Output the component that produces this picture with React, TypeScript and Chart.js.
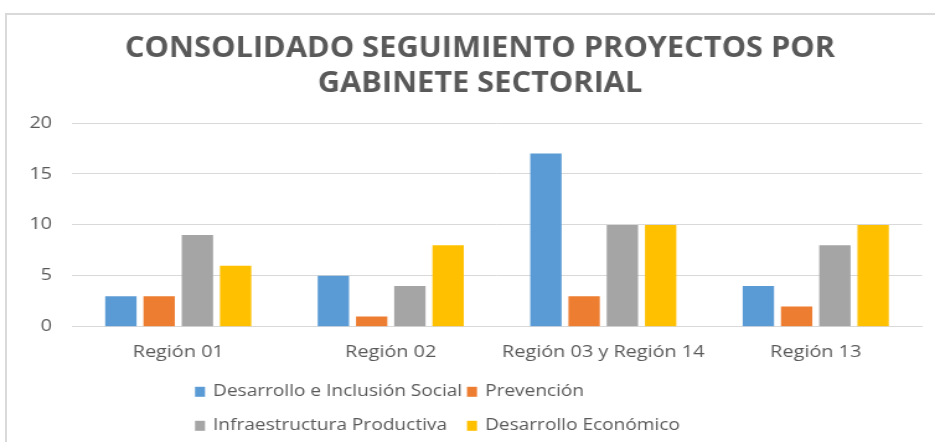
import React, { useEffect, useRef } from "react";
import { Chart, registerables } from "chart.js";

Chart.register(...registerables);

const categories = ["Región 01", "Región 02", "Región 03 y Región 14", "Región 13"];
const seriesNames = [
  "Desarrollo e Inclusión Social",
  "Prevención",
  "Infraestructura Productiva",
  "Desarrollo Económico",
];
const desarrolloInclusion = [3, 5, 17, 4];
const prevencion = [3, 1, 3, 2];
const infraestructura = [9, 4, 10, 8];
const desarrolloEconomico = [6, 8, 10, 10];
const yTicks = [0, 5, 10, 15, 20];
const titleLines = ["CONSOLIDADO SEGUIMIENTO PROYECTOS POR", "GABINETE SECTORIAL"];

const colors = ["#5B9BD5", "#ED7D31", "#A5A5A5", "#FFC000"];
const textColor = "#595959";
const gridColor = "#D9D9D9";
const bodyFont = "'Open Sans', 'DejaVu Sans', sans-serif";

// The original picture is horizontally stretched; render narrower and stretch the canvas.
const W = 935;
const H = 442;
const S = 1.24;
const CW = Math.round(W / S);
const px = (v: number) => v / S;

const titleAndLegendPlugin = {
  id: "titleAndLegend",
  afterDraw(chart: any) {
    const ctx = chart.ctx;
    const area = chart.chartArea;

    ctx.save();
    ctx.font = `bold 28px ${bodyFont}`;
    ctx.fillStyle = textColor;
    ctx.textBaseline = "alphabetic";
    ctx.textAlign = "center";
    const w0 = ctx.measureText(titleLines[0]).width;
    const sx = px(710) / w0;
    const cx = px(480);
    const baselines = [57, 92];
    titleLines.forEach((line, i) => {
      ctx.save();
      ctx.translate(cx, baselines[i]);
      ctx.scale(sx, 1);
      ctx.fillText(line, 0, 0);
      ctx.restore();
    });
    ctx.restore();

    const cols = [px(195), px(467)];
    const rows = [area.bottom + 65, area.bottom + 99];
    ctx.save();
    ctx.font = `15.4px ${bodyFont}`;
    ctx.textBaseline = "middle";
    ctx.textAlign = "left";
    chart.data.datasets.forEach((ds: any, i: number) => {
      const x = cols[i % 2];
      const y = rows[Math.floor(i / 2)];
      ctx.fillStyle = ds.backgroundColor;
      ctx.fillRect(x, y - 5, px(10), 10);
      ctx.fillStyle = textColor;
      ctx.fillText(ds.label, x + px(18), y);
    });
    ctx.restore();
  },
};

export default function App() {
  const ref = useRef<HTMLCanvasElement | null>(null);

  useEffect(() => {
    if (!ref.current) return;
    const seriesData = [desarrolloInclusion, prevencion, infraestructura, desarrolloEconomico];
    const chart = new Chart(ref.current, {
      type: "bar",
      data: {
        labels: categories,
        datasets: seriesNames.map((name, i) => ({
          label: name,
          data: seriesData[i],
          backgroundColor: colors[i],
          borderWidth: 0,
          barPercentage: 0.82,
          categoryPercentage: 0.72,
        })),
      },
      options: {
        animation: false,
        responsive: false,
        devicePixelRatio: 1,
        layout: { padding: { top: 123, right: px(13), bottom: 64, left: 0 } },
        plugins: {
          legend: { display: false },
          tooltip: { enabled: false },
          title: { display: false },
        },
        scales: {
          x: {
            grid: { display: false, drawTicks: false },
            border: { display: true, color: gridColor, width: 1 },
            ticks: { color: textColor, font: { family: bodyFont, size: 16 }, padding: 16 },
          },
          y: {
            min: 0,
            max: 20,
            afterFit: (s: any) => {
              s.width = px(72);
            },
            afterBuildTicks: (s: any) => {
              s.ticks = yTicks.map((v) => ({ value: v }));
            },
            grid: { color: gridColor, drawTicks: false },
            border: { display: false },
            ticks: { color: textColor, font: { family: bodyFont, size: 16 }, padding: px(20) },
          },
        },
      },
      plugins: [titleAndLegendPlugin],
    });
    return () => chart.destroy();
  }, []);

  return (
    <div style={{ position: "absolute", left: 0, top: 0, width: W, height: H, overflow: "hidden", background: "#fff" }}>
      <div
        style={{
          position: "absolute",
          left: 5,
          top: 13,
          width: 960,
          height: 460,
          borderLeft: `2px solid ${gridColor}`,
          borderTop: `2px solid ${gridColor}`,
        }}
      />
      <canvas
        ref={ref}
        width={CW}
        height={H}
        style={{ position: "absolute", left: 0, top: 0, width: W + "px", height: H + "px" }}
      />
    </div>
  );
}
